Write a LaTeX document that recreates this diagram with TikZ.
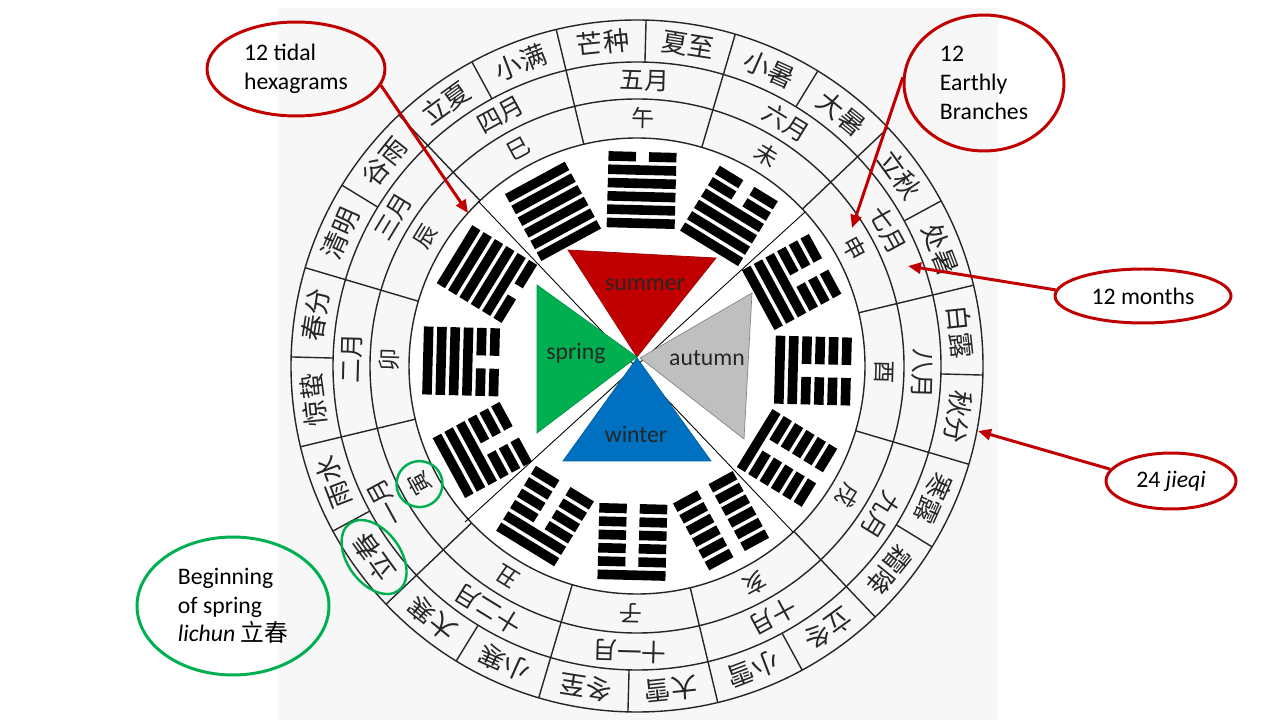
\documentclass[tikz,border=0pt]{standalone}
\usepackage{fontspec}
\setmainfont{Carlito}
\newfontfamily\cjk{Noto Sans CJK SC}
\usetikzlibrary{arrows.meta, shapes.geometric}
\definecolor{notered}{HTML}{C00000}
\definecolor{lichungreen}{HTML}{00B050}
\definecolor{summerred}{HTML}{C00000}
\definecolor{springgreen}{HTML}{00B050}
\definecolor{autumngray}{HTML}{BFBFBF}
\definecolor{winterblue}{HTML}{0070C0}
\definecolor{scan}{HTML}{F7F7F7}
\definecolor{ink}{HTML}{262626}

\begin{document}
\begin{tikzpicture}[
    x=0.02cm, y=0.02cm,
    every node/.style={font=\fontsize{13.5}{16.3}\selectfont},
    ring/.style={draw=ink, line width=0.8pt},
    divider/.style={draw=black, line width=0.5pt},
    jq_label/.style={font=\cjk\fontsize{15}{15}\selectfont, text=ink, inner sep=0},
    mo_label/.style={font=\cjk\fontsize{14}{14}\selectfont, text=ink, inner sep=0},
    br_label/.style={font=\cjk\fontsize{13}{13}\selectfont, text=ink, inner sep=0},
    season/.style={inner sep=0, text=black!85},
    note/.style={ellipse, draw=notered, line width=1.7pt, inner sep=0, align=left},
    hilite/.style={ellipse, draw=lichungreen, line width=1.4pt, inner sep=0},
    arrow/.style={line width=1.7pt, -{Triangle[length=2.6mm, width=2.2mm]}, color=notered}
]

\useasboundingbox (0,0) rectangle (1280,720);
\fill[scan] (278,0) rectangle (998,712);

\begin{scope}[shift={(637,354)}]
% rings of the chart
\fill[white] (0,0) circle (228);
\foreach \r in {228,267,304,346}
    \draw[ring] (0,0) circle (\r);
\foreach \a in {13.5,43.5,...,343.5}
    \draw[ring] (\a:228) -- (\a:346);
\foreach \a in {-1.5,28.5,...,328.5}
    \draw[ring] (\a:304) -- (\a:346);

% 24 jieqi, 12 months, 12 branches
\foreach \name [count=\k from 0] in {芒种,小满,立夏,谷雨,清明,春分,惊蛰,雨水,立春,大寒,小寒,冬至,大雪,小雪,立冬,霜降,寒露,秋分,白露,处暑,立秋,大暑,小暑,夏至} {
    \pgfmathsetmacro\ang{96+15*\k}
    \node[jq_label, rotate=\ang-90] (jq\k) at (\ang:325) {\name};
}
\foreach \name [count=\k from 0] in {五月,四月,三月,二月,一月,十二月,十一月,十月,九月,八月,七月,六月} {
    \pgfmathsetmacro\ang{88.5+30*\k}
    \node[mo_label, rotate=\ang-90] (mo\k) at (\ang:285.5) {\name};
}
\foreach \name [count=\k from 0] in {午,巳,辰,卯,寅,丑,子,亥,戌,酉,申,未} {
    \pgfmathsetmacro\ang{88.5+30*\k}
    \node[br_label, rotate=\ang-90] (br\k) at (\ang:247.5) {\name};
}

% hexagrams, bottom line outside
\foreach \bits [count=\k from 0] in {{0,1,1,1,1,1},{1,1,1,1,1,1},{1,1,1,1,1,0},{1,1,1,1,0,0},{1,1,1,0,0,0},{1,1,0,0,0,0},{1,0,0,0,0,0},{0,0,0,0,0,0},{0,0,0,0,0,1},{0,0,0,0,1,1},{0,0,0,1,1,1},{0,0,1,1,1,1}} {
    \pgfmathsetmacro\ang{88.5+30*\k}
    \begin{scope}[shift={(\ang:176)}, rotate=\ang-90]
    \foreach \bit [count=\i] in \bits {
        \pgfmathsetmacro\yy{(3.5-\i)*13.3}
        \ifnum\bit=1\relax
            \fill (-34,\yy-4.8) rectangle (34,\yy+4.8);
        \else
            \fill (-34,\yy-4.8) rectangle (-6.5,\yy+4.8);
            \fill (6.5,\yy-4.8) rectangle (34,\yy+4.8);
        \fi
    }
    \end{scope}
}

\draw[divider] (-159,165) -- (156,-166);
\draw[divider] (168,154) -- (-172,-156);

% seasons
\filldraw[fill=summerred, draw=summerred!85!black, line width=0.4pt] (-69,116) -- (79,108) -- (0,9) -- cycle;
\filldraw[fill=springgreen, draw=springgreen!85!black, line width=0.4pt] (-100,81) -- (0,9) -- (-100,-67) -- cycle;
\filldraw[fill=autumngray, draw=autumngray!70!black, line width=0.4pt] (115,73) -- (107,-73) -- (3,8) -- cycle;
\filldraw[fill=winterblue, draw=winterblue!85!black, line width=0.4pt] (0,8) -- (-74,-95) -- (74,-95) -- cycle;
\node[season] (summer) at (8,81) {summer};
\node[season] (spring) at (-61,13) {spring};
\node[season] (autumn) at (70,8) {autumn};
\node[season] (winter) at (-1,-68) {winter};

\node[hilite, minimum width=0.92cm, minimum height=0.92cm] (yinring) at (br4) {};
\node[hilite, rotate=126, minimum width=1.66cm, minimum height=1.06cm] (lichunring) at (jq8) {};
\end{scope}

% notes
\node[note, minimum width=3.56cm, minimum height=1.88cm] (hexnote) at (296,651) {12 tidal\\hexagrams};
\node[note, minimum width=3.2cm, minimum height=2.72cm] (branchnote) at (984,637) {12\\Earthly\\Branches};
\node[note, minimum width=3.52cm, minimum height=1.08cm] (monthnote) at (1143,424) {12 months};
\node[note, minimum width=2.6cm, minimum height=1.12cm] (jieqinote) at (1171,239) {24 \textit{jieqi}};
\node[note, draw=lichungreen, minimum width=3.84cm, minimum height=2.76cm] (lichunnote) at (233,114) {Beginning\\of spring\\\textit{lichun} {\cjk 立春}};

\coordinate (hextip) at (468,507);
\coordinate (branchtip) at (852,492);
\coordinate (monthtip) at (908,454);
\coordinate (jieqitip) at (978,289);

\draw[arrow] (hexnote.-11) -- (hextip);
\draw[arrow] (branchnote.176) -- (branchtip);
\draw[arrow] (monthnote.176) -- (monthtip);
\draw[arrow] (jieqinote.169) -- (jieqitip);

\end{tikzpicture}
\end{document}
